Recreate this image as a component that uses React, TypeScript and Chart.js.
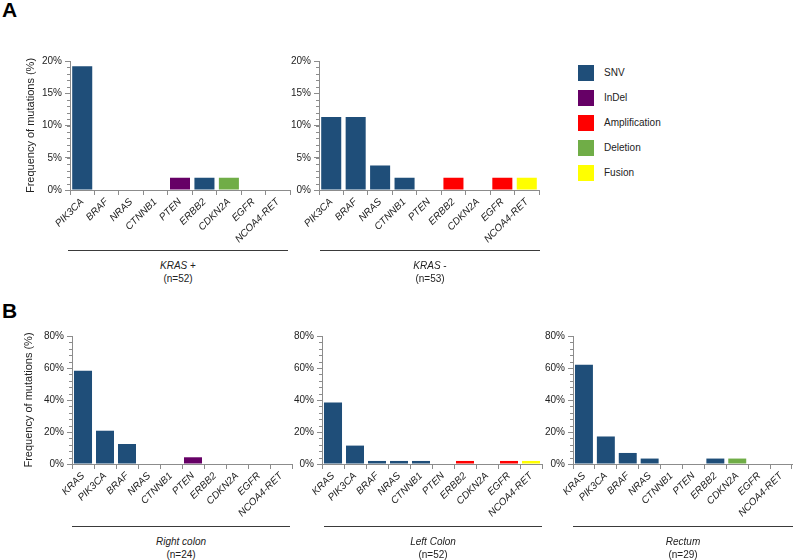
import React, { useEffect, useRef } from "react";
import { Chart, registerables } from "chart.js";

Chart.register(...registerables);

// ---------- DATA ----------
const genesA = ["PIK3CA", "BRAF", "NRAS", "CTNNB1", "PTEN", "ERBB2", "CDKN2A", "EGFR", "NCOA4-RET"];
const genesB = ["KRAS", "PIK3CA", "BRAF", "NRAS", "CTNNB1", "PTEN", "ERBB2", "CDKN2A", "EGFR", "NCOA4-RET"];

const krasPosValues = [19.2, 0, 0, 0, 1.9, 1.9, 1.9, 0, 0];
const krasPosTypes = ["SNV", "SNV", "SNV", "SNV", "InDel", "SNV", "Deletion", "SNV", "SNV"];

const krasNegValues = [11.3, 11.3, 3.8, 1.9, 0, 1.9, 0, 1.9, 1.9];
const krasNegTypes = ["SNV", "SNV", "SNV", "SNV", "SNV", "Amplification", "SNV", "Amplification", "Fusion"];

const rightColonValues = [58.3, 20.8, 12.5, 0, 0, 4.2, 0, 0, 0, 0];
const rightColonTypes = ["SNV", "SNV", "SNV", "SNV", "SNV", "InDel", "SNV", "SNV", "SNV", "SNV"];

const leftColonValues = [38.5, 11.5, 1.9, 1.9, 1.9, 0, 1.9, 0, 1.9, 1.9];
const leftColonTypes = ["SNV", "SNV", "SNV", "SNV", "SNV", "SNV", "Amplification", "SNV", "Amplification", "Fusion"];

const rectumValues = [62.1, 17.2, 6.9, 3.4, 0, 0, 3.4, 3.4, 0, 0];
const rectumTypes = ["SNV", "SNV", "SNV", "SNV", "SNV", "SNV", "SNV", "Deletion", "SNV", "SNV"];

const legendTypes = ["SNV", "InDel", "Amplification", "Deletion", "Fusion"];
const typeColors: Record<string, string> = {
  SNV: "#1f4e79",
  InDel: "#660066",
  Amplification: "#ff0000",
  Deletion: "#70ad47",
  Fusion: "#ffff00",
};

const yTitle = "Frequency of mutations (%)";
const FONT = "'Liberation Sans', Arial, Helvetica, sans-serif";
const AXIS = "#8c8c8c";
const TEXT = "#222222";

// ---------- minor ticks plugin ----------
const minorTicks = {
  id: "minorTicks",
  afterDraw(chart: any, _args: any, opts: any) {
    const s = chart.scales.y;
    if (!s || !opts || !opts.step) return;
    const ctx = chart.ctx;
    ctx.save();
    ctx.strokeStyle = AXIS;
    ctx.lineWidth = 1;
    for (let v = s.min; v <= s.max + 1e-9; v += opts.step) {
      const y = Math.round(s.getPixelForValue(v)) + 0.5;
      ctx.beginPath();
      ctx.moveTo(s.right - 3, y);
      ctx.lineTo(s.right, y);
      ctx.stroke();
    }
    ctx.restore();
  },
};

type PanelProps = {
  labels: string[];
  values: number[];
  types: string[];
  max: number;
  major: number;
  minor: number;
  showTitle: boolean;
  left: number;
  top: number;
  width: number;
  height: number;
  padTop: number;
  padRight: number;
  padLeft: number;
  yWidth: number;
  xHeight: number;
};

function Panel(p: PanelProps) {
  const ref = useRef<HTMLCanvasElement>(null);
  useEffect(() => {
    if (!ref.current) return;
    const chart = new Chart(ref.current, {
      type: "bar",
      data: {
        labels: p.labels,
        datasets: [
          {
            data: p.values,
            backgroundColor: p.types.map((t) => typeColors[t]),
            categoryPercentage: 1,
            barPercentage: 0.82,
          },
        ],
      },
      plugins: [minorTicks],
      options: {
        animation: false,
        responsive: false,
        maintainAspectRatio: false,
        layout: { padding: { top: p.padTop, right: p.padRight, left: p.padLeft, bottom: 0 } },
        plugins: {
          legend: { display: false },
          tooltip: { enabled: false },
          minorTicks: { step: p.minor },
        } as any,
        scales: {
          x: {
            type: "category",
            grid: { display: true, offset: true, drawOnChartArea: false, drawTicks: true, tickLength: 5, color: AXIS },
            border: { display: true, color: AXIS },
            ticks: {
              minRotation: 45,
              maxRotation: 45,
              autoSkip: false,
              font: { family: FONT, size: 10, style: "italic" },
              color: TEXT,
              padding: 1,
            },
            afterFit: (s: any) => {
              s.height = p.xHeight;
            },
          },
          y: {
            min: 0,
            max: p.max,
            ticks: {
              stepSize: p.major,
              autoSkip: false,
              callback: (v: any) => v + "%",
              font: { family: FONT, size: 10 },
              color: TEXT,
              padding: 3,
            },
            grid: { drawOnChartArea: false, tickLength: 5, color: AXIS },
            border: { color: AXIS },
            title: {
              display: p.showTitle,
              text: yTitle,
              font: { family: FONT, size: 11 },
              color: TEXT,
              padding: { top: 0, bottom: 2 },
            },
            afterFit: (s: any) => {
              s.width = p.yWidth;
            },
          },
        },
      } as any,
    });
    return () => chart.destroy();
  }, []);
  return (
    <canvas
      ref={ref}
      width={p.width}
      height={p.height}
      style={{ position: "absolute", left: p.left, top: p.top, width: p.width, height: p.height }}
    />
  );
}

function Group(props: { x1: number; x2: number; y: number; children: React.ReactNode }) {
  const { x1, x2, y, children } = props;
  return (
    <>
      <div style={{ position: "absolute", left: x1, top: y, width: x2 - x1, height: 0, borderTop: "1.5px solid #3a3a3a" }} />
      <div
        style={{
          position: "absolute",
          left: x1,
          top: y + 9,
          width: x2 - x1,
          textAlign: "center",
          fontFamily: FONT,
          fontSize: 10,
          lineHeight: "13px",
          color: TEXT,
        }}
      >
        {children}
      </div>
    </>
  );
}

export default function App() {
  return (
    <div style={{ position: "absolute", left: 0, top: 0, width: 793, height: 560, background: "#fff", overflow: "hidden" }}>
      <div style={{ position: "absolute", left: 2, top: -2, fontFamily: FONT, fontWeight: "bold", fontSize: 21 }}>A</div>
      <div style={{ position: "absolute", left: 2, top: 299, fontFamily: FONT, fontWeight: "bold", fontSize: 21 }}>B</div>

      <Panel labels={genesA} values={krasPosValues} types={krasPosTypes} max={20} major={5} minor={1} showTitle
        left={0} top={50} width={295} height={200} padTop={11} padRight={5} padLeft={24} yWidth={46} xHeight={60} />
      <Panel labels={genesA} values={krasNegValues} types={krasNegTypes} max={20} major={5} minor={1} showTitle={false}
        left={270} top={50} width={275} height={200} padTop={11} padRight={6} padLeft={0} yWidth={49} xHeight={60} />

      <Panel labels={genesB} values={rightColonValues} types={rightColonTypes} max={80} major={20} minor={4} showTitle
        left={0} top={325} width={297} height={200} padTop={11} padRight={5} padLeft={22} yWidth={50} xHeight={61} />
      <Panel labels={genesB} values={leftColonValues} types={leftColonTypes} max={80} major={20} minor={4} showTitle={false}
        left={272} top={325} width={275} height={200} padTop={11} padRight={5} padLeft={0} yWidth={50} xHeight={61} />
      <Panel labels={genesB} values={rectumValues} types={rectumTypes} max={80} major={20} minor={4} showTitle={false}
        left={523} top={325} width={270} height={200} padTop={11} padRight={1} padLeft={0} yWidth={50} xHeight={61} />

      <Group x1={68} x2={288} y={250}>
        <div><i>KRAS</i> +</div>
        <div>(n=52)</div>
      </Group>
      <Group x1={320} x2={540} y={250}>
        <div><i>KRAS</i> -</div>
        <div>(n=53)</div>
      </Group>
      <Group x1={72} x2={290} y={526}>
        <div><i>Right colon</i></div>
        <div>(n=24)</div>
      </Group>
      <Group x1={324} x2={542} y={526}>
        <div><i>Left Colon</i></div>
        <div>(n=52)</div>
      </Group>
      <Group x1={573} x2={793} y={526}>
        <div><i>Rectum</i></div>
        <div>(n=29)</div>
      </Group>

      {legendTypes.map((t, i) => (
        <div key={t}>
          <div style={{ position: "absolute", left: 578, top: 65 + i * 25, width: 16, height: 16, background: typeColors[t] }} />
          <div style={{ position: "absolute", left: 604, top: 66 + i * 25, fontFamily: FONT, fontSize: 10, lineHeight: "14px", color: TEXT }}>{t}</div>
        </div>
      ))}
    </div>
  );
}
